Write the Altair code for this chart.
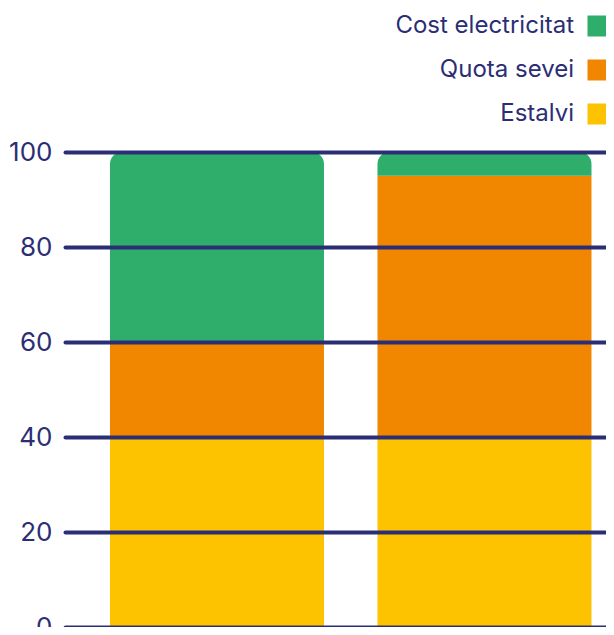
import altair as alt
import pandas as pd

categories = ["Situació actual", "Amb el servei"]
series = ["Estalvi", "Quota sevei", "Cost electricitat"]
estalvi = [40, 40]
quota = [20, 55]
cost = [40, 5]
legend_order = ["Cost electricitat", "Quota sevei", "Estalvi"]
colors = ["#2EAD6B", "#F18700", "#FDC300"]
y_ticks = [0, 20, 40, 60, 80, 100]

NAVY = "#2B2E75"
FONT = "Inter"

rows = []
for i, c in enumerate(categories):
    for k, (s, vals) in enumerate(zip(series, [estalvi, quota, cost])):
        rows.append({"cat": c, "series": s, "value": vals[i], "order": k})
df = pd.DataFrame(rows)

base = alt.Chart(df).transform_stack(
    stack="value", groupby=["cat"], as_=["y0", "y1"],
    sort=[alt.SortField("order", order="ascending")]
)

x_enc = alt.X("cat:N", sort=categories, axis=None,
              scale=alt.Scale(paddingInner=0.2, paddingOuter=0.1112, align=0.756))
y_enc = alt.Y("y1:Q", title=None,
              scale=alt.Scale(domain=[0, 100], nice=False),
              axis=alt.Axis(values=y_ticks, grid=True, gridColor=NAVY, gridWidth=4,
                            gridCap="round", domain=False, ticks=False,
                            labelFont=FONT, labelFontSize=26, labelColor=NAVY,
                            labelPadding=13, zindex=1))
color_enc = alt.Color("series:N",
                      scale=alt.Scale(domain=legend_order, range=colors),
                      legend=alt.Legend(title=None, orient="none", legendX=521, legendY=-138,
                                        symbolType="square", symbolSize=441,
                                        symbolStrokeWidth=0, symbolOpacity=1,
                                        labelAlign="right", labelOffset={"expr": "-36"},
                                        labelFont=FONT, labelFontSize=24, labelLimit=400,
                                        labelColor=NAVY, rowPadding=20))

lower = base.transform_filter(alt.datum.series != "Cost electricitat").mark_bar(
    strokeWidth=0).encode(
    x=x_enc, y=y_enc, y2="y0:Q", color=color_enc)
top = base.transform_filter(alt.datum.series == "Cost electricitat").mark_bar(
    cornerRadiusTopLeft=12, cornerRadiusTopRight=12, strokeWidth=0).encode(
    x=x_enc, y=y_enc, y2="y0:Q", color=color_enc)

chart = alt.layer(lower, top).properties(
    width=541, height=475,
    background="white",
    autosize=alt.AutoSizeParams(type="none"),
    padding={"left": 57, "top": 144, "right": 0, "bottom": 0},
).configure_view(stroke=None, strokeWidth=0)

chart.save("out.html", embed_options={"renderer": "svg", "actions": False})
